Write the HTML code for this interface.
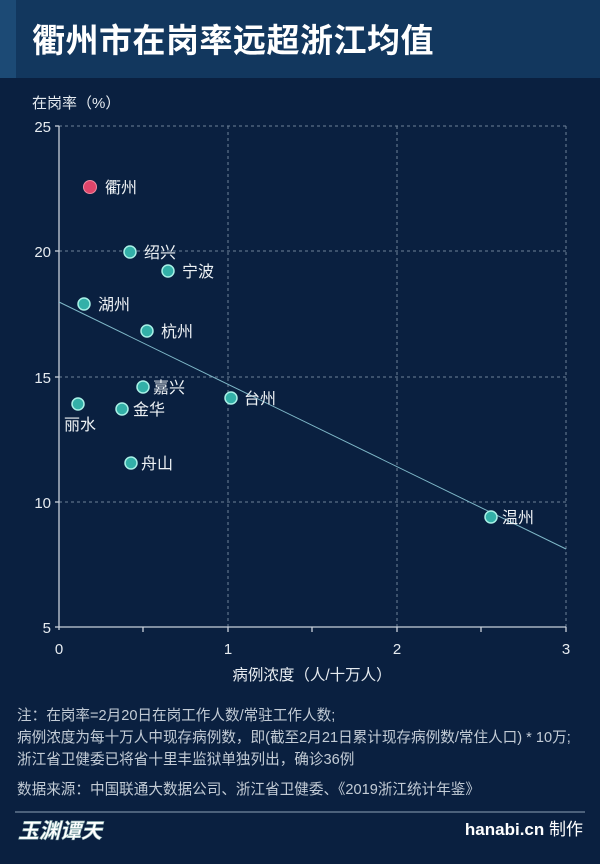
<!DOCTYPE html>
<html><head><meta charset="utf-8"><style>
body{margin:0;width:600px;height:864px;background:#0a2040;font-family:"Liberation Sans","Noto Sans CJK SC",sans-serif;overflow:hidden;position:relative}
.hdr{position:absolute;left:0;top:0;width:600px;height:78px;background:#12375e}
.hdr:before{content:"";position:absolute;left:0;top:0;width:16px;height:78px;background:#1c4a75}
.t{position:absolute;left:32px;top:14px;font-size:33px;font-weight:bold;color:#fff;letter-spacing:0.5px}
.n{position:absolute;left:17px;color:#c3ccd6;font-size:14.6px;white-space:nowrap}
</style></head><body>
<div class="hdr"></div>
<div class="t">衢州市在岗率远超浙江均值</div>
<svg width="600" height="864" style="position:absolute;left:0;top:0" font-family="Liberation Sans, Noto Sans CJK SC, sans-serif">
<text x="32" y="108" fill="#e6ebf0" font-size="15">在岗率（%）</text>
<g stroke="#6f8299" stroke-dasharray="3,3" stroke-width="1">
<line x1="59" y1="126" x2="566" y2="126"/><line x1="59" y1="251" x2="566" y2="251"/><line x1="59" y1="377" x2="566" y2="377"/><line x1="59" y1="502" x2="566" y2="502"/>
<line x1="228" y1="126" x2="228" y2="627"/><line x1="397" y1="126" x2="397" y2="627"/><line x1="566" y1="126" x2="566" y2="627"/>
</g>
<g stroke="#c8d0da" stroke-width="1.3">
<line x1="59" y1="126" x2="59" y2="630"/><line x1="59" y1="627" x2="566" y2="627"/>
<line x1="55" y1="126" x2="59" y2="126"/><line x1="55" y1="251" x2="59" y2="251"/><line x1="55" y1="377" x2="59" y2="377"/><line x1="55" y1="502" x2="59" y2="502"/><line x1="55" y1="627" x2="59" y2="627"/>
<line x1="143" y1="627" x2="143" y2="632"/><line x1="228" y1="627" x2="228" y2="632"/><line x1="312" y1="627" x2="312" y2="632"/><line x1="397" y1="627" x2="397" y2="632"/><line x1="481" y1="627" x2="481" y2="632"/><line x1="566" y1="627" x2="566" y2="632"/>
</g>
<g fill="#e6ebf0" font-size="15" text-anchor="end">
<text x="51" y="132">25</text><text x="51" y="257">20</text><text x="51" y="383">15</text><text x="51" y="508">10</text><text x="51" y="633">5</text>
</g>
<g fill="#e6ebf0" font-size="15" text-anchor="middle">
<text x="59" y="654">0</text><text x="228" y="654">1</text><text x="397" y="654">2</text><text x="566" y="654">3</text>
<text x="312" y="680" font-size="15.5">病例浓度（人/十万人）</text>
</g>
<line x1="59" y1="302" x2="566" y2="549" stroke="#7fb8c8" stroke-width="1"/>
<g fill="#33b0a8" stroke="#a8f0e6" stroke-width="1.5">
<circle cx="130" cy="252" r="6"/><circle cx="168" cy="271" r="6"/><circle cx="84" cy="304" r="6"/><circle cx="147" cy="331" r="6"/><circle cx="143" cy="387" r="6"/><circle cx="231" cy="398" r="6"/><circle cx="78" cy="404" r="6"/><circle cx="122" cy="409" r="6"/><circle cx="131" cy="463" r="6"/><circle cx="491" cy="517" r="6"/>
</g>
<circle cx="90" cy="187" r="6.5" fill="#e0456a" stroke="#f08aa0" stroke-width="1"/>
<g fill="#eef2f5" font-size="16">
<text x="105" y="193">衢州</text><text x="144" y="258">绍兴</text><text x="182" y="277">宁波</text><text x="98" y="310">湖州</text><text x="161" y="337">杭州</text><text x="153" y="393">嘉兴</text><text x="244" y="404">台州</text><text x="64" y="430">丽水</text><text x="133" y="415">金华</text><text x="141" y="469">舟山</text><text x="502" y="523">温州</text>
</g>
<line x1="15" y1="812" x2="585" y2="812" stroke="#8fa2b6" stroke-width="1"/>
<text x="18" y="838" fill="#fff" font-size="21" font-weight="bold" font-style="italic" stroke="#9bb" stroke-width="0.6">玉渊谭天</text>
<text x="583" y="835" fill="#fff" font-size="17" text-anchor="end"><tspan font-weight="bold">hanabi.cn</tspan> 制作</text>
</svg>
<div class="n" style="top:704px">注：在岗率=2月20日在岗工作人数/常驻工作人数;</div>
<div class="n" style="top:726px">病例浓度为每十万人中现存病例数，即(截至2月21日累计现存病例数/常住人口) * 10万;</div>
<div class="n" style="top:748px">浙江省卫健委已将省十里丰监狱单独列出，确诊36例</div>
<div class="n" style="top:778px">数据来源：中国联通大数据公司、浙江省卫健委、《2019浙江统计年鉴》</div>
</body></html>
